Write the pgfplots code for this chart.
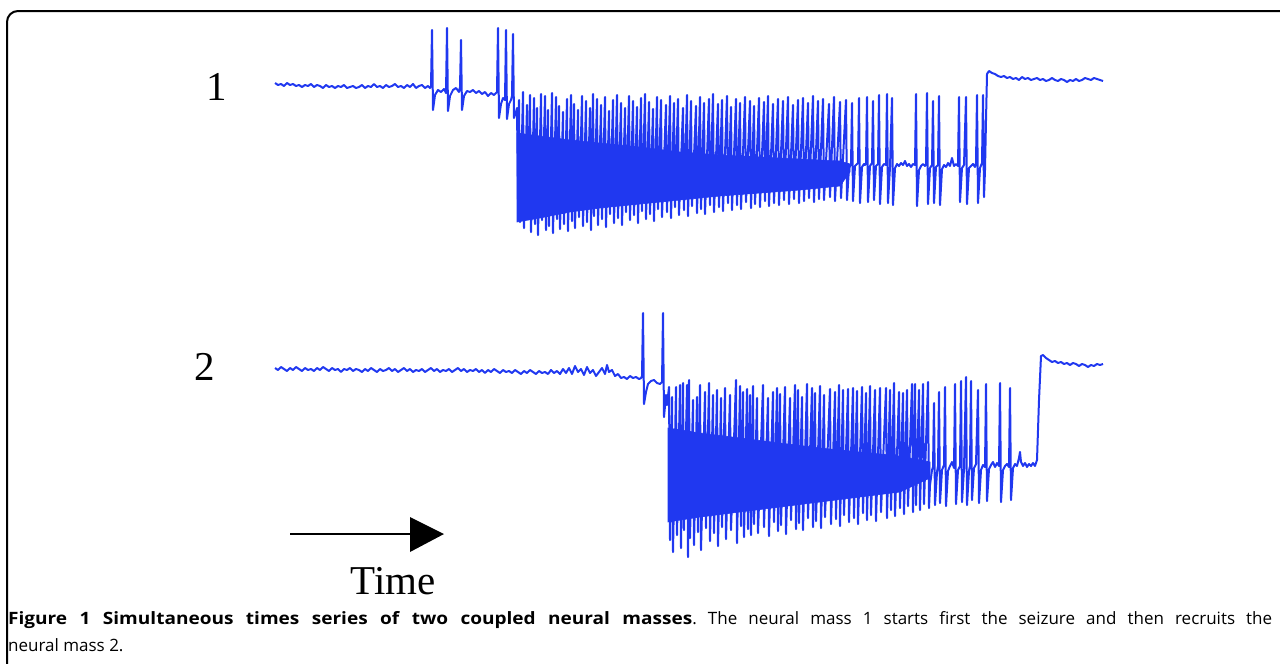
\documentclass[border=0pt]{standalone}
\usepackage{pgfplots}
\pgfplotsset{compat=1.18}
\usepackage{fontspec}
\newfontfamily\capfontb[FakeStretch=1.12]{Open Sans}
\newfontfamily\capfontr{Open Sans}
\newfontfamily\tnr{Liberation Serif}
\definecolor{trace}{RGB}{32,56,240}
\begin{document}
\frenchspacing
\begin{tikzpicture}
\useasboundingbox (0,0) rectangle (1280pt,664pt);
\begin{axis}[at={(0,0)}, anchor=south west, width=1280pt, height=664pt, scale only axis,
  xmin=0, xmax=1280, ymin=0, ymax=664, y dir=reverse, hide axis, clip=false]
% ---- series 1: dense band ----
\addplot[draw=trace, fill=trace, line width=0.6pt] coordinates {
(517,133)(540,136)(570,140)(600,143)(640,147)(680,152)(720,155)(760,157)(800,159)(840,161)(850,164)
(850,172)(840,186)(800,190)(760,193)(720,196)(680,200)(640,204)(600,208)(570,212)(540,218)(517,222)} -- cycle;
% ---- series 1: trace ----
\addplot[trace, line width=2pt, line join=round] coordinates {
(275,83)(278,85)(281,84)(284,86)(287,83)(290,85)(293,84)(296,86)(299,85)(302,87)(305,85)(308,86)(311,84)(314,87)(317,85)(320,86)(323,88)(326,85)(329,87)(332,86)(335,88)(338,86)(341,87)(344,85)(347,88)(350,87)(353,86)(356,88)(359,87)(362,85)(365,88)(368,86)(371,87)(374,84)(377,87)(380,86)(383,88)(386,85)(389,87)(392,86)(395,84)(398,87)(401,86)(404,88)(407,85)(410,87)(413,84)(416,88)(419,86)(422,85)(425,88)(428,86)(430,88)
(431,86)(432,30)(433,110)(435,95)(438,90)(441,92)(444,89)(446,93)(447,28)(448,111)(450,96)(453,90)(456,88)(459,92)(460,87)(461,40)(462,110)(464,96)(467,91)(470,92)(473,90)(476,93)(479,91)(482,94)(485,92)(488,96)(491,93)(494,95)(497,92)(498,28)(499,118)(501,104)(503,98)(505,100)(506,30)(507,119)(509,104)(511,100)(512,96)(513,34)(514,118)(516,112)(517,108)(518,200)
(519,100)(520,222)(523,92)(524,228)(527,105)(528,218)(530,95)(531,232)(534,98)(535,224)(537,108)(538,235)(541,94)(542,220)(545,96)(546,230)(548,110)(549,226)(552,93)(553,233)(556,97)(557,219)(559,106)(560,229)(563,112)(564,224)(567,99)(568,231)(571,95)(572,221)(574,104)(575,228)(578,110)(579,217)(582,96)(583,226)(586,101)(587,222)(590,108)(591,230)(593,94)(594,216)(597,99)(598,225)(601,105)(602,219)(605,97)(606,227)(609,111)(610,214)(613,100)(614,223)(617,95)(618,218)(621,103)(622,225)(625,108)(626,212)(629,96)(630,220)(633,101)(634,215)(637,107)(638,223)(641,98)(642,211)(645,94)(646,219)(649,102)(650,214)(653,109)(654,221)(657,97)(658,209)(661,100)(662,217)(666,105)(667,212)(670,96)(671,218)(674,103)(675,207)(678,99)(679,215)(683,108)(684,210)(687,95)(688,216)(691,101)(692,206)(696,106)(697,213)(700,97)(701,209)(704,103)(705,214)(709,99)(710,205)(713,94)(714,212)(718,104)(719,207)(722,100)(723,211)(727,96)(728,203)(731,107)(732,210)(736,99)(737,205)(740,103)(741,209)(745,97)(746,202)(750,101)(751,208)(754,106)(755,204)(759,98)(760,207)(764,102)(765,201)(768,96)(769,206)(773,104)(774,203)(778,99)(779,205)(783,101)(784,200)(788,97)(789,204)(793,105)(794,199)(798,100)(799,203)(803,98)(804,201)(808,103)(809,198)(813,96)(814,202)(818,101)(819,199)(823,99)(824,200)(829,104)(830,197)(834,97)(835,201)(840,102)(841,198)(846,100)(847,200)(849,168)
(851,164)(852,103)(853,201)(855,166)(857,164)(858,163)(859,98)(860,203)(862,167)(864,164)(865,165)(866,163)(867,97)(868,202)(870,166)(872,163)(873,101)(874,200)(876,166)(878,164)(879,95)(880,204)(882,167)(884,164)(886,165)(887,94)(888,203)(890,167)(892,98)(893,205)(895,168)(897,164)(899,166)(901,163)(903,165)(905,161)(907,166)(909,164)(911,167)(913,164)(915,165)
(916,94)(917,206)(919,170)(921,166)(923,164)(925,166)(926,164)(927,93)(928,204)(930,168)(932,165)(933,101)(934,203)(936,167)(938,165)(939,96)(940,205)(942,169)(944,165)(946,167)(948,163)(950,166)(952,158)(954,166)(956,164)(958,166)(959,97)(960,202)(962,168)(964,165)(966,97)(967,204)(969,168)(971,166)(973,164)(975,167)(976,163)(977,95)(978,203)(980,168)(982,163)
(983,95)(984,197)(985,170)(986,120)(987,74)(989,71)(992,73)(995,74)(998,76)(1001,77)(1004,76)(1007,78)(1010,77)(1013,79)(1016,78)(1019,80)(1022,77)(1025,79)(1028,78)(1031,80)(1034,79)(1037,78)(1040,80)(1043,79)(1046,81)(1049,80)(1052,78)(1055,80)(1058,81)(1061,79)(1064,80)(1067,82)(1070,80)(1073,81)(1076,79)(1079,81)(1082,80)(1085,78)(1088,79)(1091,80)(1094,78)(1097,79)(1100,80)(1103,81)};
% ---- series 2: dense band ----
\addplot[draw=trace, fill=trace, line width=0.6pt] coordinates {
(668,428)(700,433)(740,438)(780,443)(820,448)(860,452)(900,456)(930,462)
(930,478)(900,492)(860,497)(820,502)(780,507)(740,512)(700,517)(668,522)} -- cycle;
% ---- series 2: trace ----
\addplot[trace, line width=2pt, line join=round] coordinates {
(275,368)(278,370)(281,367)(284,369)(287,371)(290,368)(293,370)(296,367)(299,369)(302,371)(305,368)(308,370)(311,369)(314,371)(317,368)(320,370)(323,367)(326,369)(329,371)(332,368)(335,370)(338,369)(341,372)(344,369)(347,370)(350,368)(353,371)(356,369)(359,370)(362,372)(365,369)(368,371)(371,368)(374,370)(377,372)(380,369)(383,371)(386,370)(389,368)(392,371)(395,369)(398,372)(401,370)(404,368)(407,371)(410,369)(413,372)(416,370)(419,371)(422,369)(425,372)(428,370)(431,368)(434,371)(437,369)(440,372)(443,370)(446,371)(449,369)(452,372)(455,370)(458,368)(461,371)(464,369)(467,372)(470,370)(473,371)(476,369)(479,372)(482,370)(485,373)(488,370)(491,372)(494,369)(497,371)(500,373)(503,370)(506,372)(509,371)(512,373)(515,370)(518,372)(521,374)(524,371)(527,373)(530,370)(533,372)(536,374)(539,371)(542,373)(545,372)(548,374)(551,370)(554,373)(557,371)(560,374)(563,369)(566,373)(569,368)(572,374)(575,366)(578,372)(581,369)(584,375)(587,367)(590,373)(593,370)(596,376)(599,372)(602,368)(605,374)(607,365)(609,372)(612,370)(615,376)(618,374)(621,378)(624,377)(627,379)(630,376)(633,378)(636,377)(639,379)(641,378)
(642,376)(643,313)(644,404)(646,392)(648,384)(651,381)(654,380)(657,383)(660,384)(662,382)(663,313)(664,417)(666,395)(667,405)
(669,387)(670,540)(672,397)(673,552)(676,387)(677,535)(680,385)(681,548)(683,383)(684,530)(687,385)(688,557)(689,380)(690,538)(693,400)(694,545)(697,397)(698,532)(700,385)(701,550)(705,392)(706,528)(709,383)(710,541)(713,395)(714,533)(717,390)(718,546)(721,398)(722,527)(725,388)(726,539)(730,395)(731,530)(736,380)(737,543)(740,386)(741,526)(743,392)(744,537)(747,389)(748,529)(750,395)(751,535)(753,386)(754,524)(757,398)(758,533)(763,385)(764,527)(768,398)(769,536)(773,392)(774,522)(777,388)(778,531)(780,394)(781,525)(785,387)(786,534)(790,398)(791,520)(795,385)(796,529)(798,390)(799,523)(802,397)(803,530)(807,384)(808,518)(812,388)(813,527)(815,393)(816,521)(820,386)(821,528)(824,395)(825,517)(830,389)(831,524)(835,392)(836,519)(839,385)(840,526)(843,390)(844,515)(848,389)(849,522)(853,388)(854,518)(857,391)(858,524)(862,387)(863,513)(866,393)(867,520)(870,386)(871,515)(875,390)(876,521)(880,388)(881,512)(886,388)(887,518)(890,390)(891,510)(894,383)(895,516)(899,392)(900,508)(903,393)(904,514)(907,390)(908,506)(912,384)(913,512)(915,384)(916,505)(919,390)(920,510)(923,384)(924,504)(928,382)(929,508)
(930,485)(932,470)(933,467)(934,403)(935,505)(937,472)(938,466)(939,392)(940,503)(942,470)(944,465)(945,387)(946,506)(948,471)(950,466)(952,462)(954,468)(955,384)(956,504)(958,470)(960,466)(961,381)(962,502)(964,469)(966,377)(967,505)(969,471)(970,466)(971,381)(972,500)(974,468)(976,464)(978,390)(979,503)(981,470)(983,465)(985,467)(986,384)(987,501)(989,469)(991,465)(993,462)(995,467)(997,463)(999,466)(1000,383)(1001,502)(1003,470)(1005,466)(1007,464)(1009,467)
(1010,388)(1011,500)(1013,468)(1015,464)(1017,466)(1019,458)(1020,452)(1021,462)(1023,466)(1025,463)(1027,467)(1029,464)(1031,466)(1033,463)(1035,466)(1037,460)(1039,400)(1041,356)(1043,355)(1046,358)(1049,360)(1052,362)(1055,361)(1058,363)(1061,362)(1064,364)(1067,363)(1070,365)(1073,363)(1076,364)(1079,366)(1082,364)(1085,365)(1088,367)(1091,365)(1094,366)(1097,364)(1100,365)(1103,364)};
% ---- frame, labels, arrow, caption ----
\draw[line width=2pt, rounded corners=11pt] (axis cs:7,664) -- (axis cs:7,11) -- (axis cs:1280,11);
\node[anchor=base, font=\tnr\fontsize{41}{41}\selectfont, inner sep=0pt] at (axis cs:217,100) {1};
\node[anchor=base, font=\tnr\fontsize{41}{41}\selectfont, inner sep=0pt] at (axis cs:205,380) {2};
\node[anchor=base, font=\tnr\fontsize{41}{41}\selectfont, inner sep=0pt] at (axis cs:393,594) {Time};
\draw[line width=2.7pt] (axis cs:290,534) -- (axis cs:412,534);
\fill (axis cs:410,517) -- (axis cs:444,534) -- (axis cs:410,552) -- cycle;
\node[anchor=base west, inner sep=0pt] at (axis cs:8,624)
  {\makebox[1264pt][s]{\capfontb\fontsize{17}{22}\selectfont\bfseries Figure 1 Simultaneous times series of two coupled neural masses\capfontr\fontsize{17}{22}\selectfont\mdseries. The neural mass 1 starts first the seizure and then recruits the}};
\node[anchor=base west, inner sep=0pt, font=\capfontr\fontsize{17}{22}\selectfont] at (axis cs:8,651) {neural mass 2.};
\end{axis}
\end{tikzpicture}
\end{document}
